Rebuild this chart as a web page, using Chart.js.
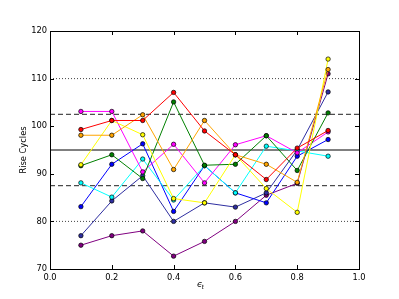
<!DOCTYPE html>
<html>
<head>
<meta charset="utf-8">
<script src="https://cdn.jsdelivr.net/npm/chart.js@4.4.1/dist/chart.umd.min.js"></script>
<style>
  html, body { margin: 0; padding: 0; background: #fff; }
  #wrap { width: 399px; height: 299px; }
</style>
</head>
<body>
<div id="wrap"><canvas id="chart" width="399" height="299"></canvas></div>
<script>
// epsilon_t values on the x axis
const epsT = [0.1, 0.2, 0.3, 0.4, 0.5, 0.6, 0.7, 0.8, 0.9];

// rise cycles, one run per colour
const runRed     = [99.3, 101.2, 101.2, 107.1, 99.0, 94.0, 88.8, 95.4, 99.1];
const runOrange  = [98.1, 98.1, 102.4, 90.9, 101.2, 94.0, 92.0, 88.2, 111.9];
const runYellow  = [91.9, 101.2, 98.2, 84.8, 83.9, 94.0, 86.9, 81.9, 114.1];
const runGreen   = [91.7, 94.0, 89.0, 105.1, 91.8, 92.0, 98.0, 90.7, 102.8];
const runMagenta = [103.1, 103.1, 90.4, 96.2, 88.1, 96.1, 98.0, 94.4, 98.8];
const runCyan    = [88.1, 85.1, 93.1, 84.5, 91.7, 86.0, 95.8, 94.8, 93.7];
const runBlue    = [83.1, 92.0, 96.3, 82.1, 91.7, 86.0, 83.9, 93.7, 97.2];
const runNavy    = [77.0, 84.3, 89.6, 80.0, 83.9, 83.0, 86.0, 95.0, 107.2];
const runPurple  = [75.0, 77.0, 78.0, 72.7, 75.8, 80.0, 85.5, 88.0, 111.0];

// reference levels
const meanLevel = [95];
const dashedLevels = [102.5, 87.5];
const dottedLevels = [110, 80];

const xTicks = [0, 0.2, 0.4, 0.6, 0.8, 1.0];
const yTicks = [70, 80, 90, 100, 110, 120];

const FONT = '"DejaVu Sans", sans-serif';

const toPts = ys => ys.map((v, i) => ({ x: epsT[i], y: v }));

function run(ys, color) {
    return {
        data: toPts(ys),
        borderColor: color,
        borderWidth: 1,
        pointRadius: 2.2,
        pointBackgroundColor: color,
        pointBorderColor: '#000',
        pointBorderWidth: 0.7,
        tension: 0
    };
}

function level(v, dash, color) {
    return {
        data: [{ x: 0, y: v }, { x: 1, y: v }],
        borderColor: color,
        borderWidth: 1,
        borderDash: dash,
        pointRadius: 0,
        tension: 0
    };
}

const datasets = [
    run(runRed, '#ff0000'),
    run(runOrange, '#ffa500'),
    run(runYellow, '#ffff00'),
    run(runGreen, '#008000'),
    run(runMagenta, '#ff00ff'),
    run(runCyan, '#00ffff'),
    run(runBlue, '#0000ff'),
    run(runNavy, '#2e2ea0'),
    run(runPurple, '#800080'),
    ...meanLevel.map(v => level(v, [], '#000')),
    ...dashedLevels.map(v => level(v, [5, 3], '#222')),
    ...dottedLevels.map(v => level(v, [1, 2], '#444'))
];

// box, inward ticks on all sides, and the epsilon_t label
const frame = {
    id: 'frame',
    afterDraw(chart) {
        const { ctx, chartArea: a, scales: { x, y } } = chart;
        ctx.save();
        ctx.strokeStyle = '#000';
        ctx.lineWidth = 1;
        ctx.strokeRect(a.left + 0.5, a.top + 0.5, a.right - a.left, a.bottom - a.top);
        ctx.beginPath();
        xTicks.forEach(v => {
            const px = Math.round(x.getPixelForValue(v)) + 0.5;
            ctx.moveTo(px, a.bottom); ctx.lineTo(px, a.bottom - 4);
            ctx.moveTo(px, a.top); ctx.lineTo(px, a.top + 4);
        });
        yTicks.forEach(v => {
            const py = Math.round(y.getPixelForValue(v)) + 0.5;
            ctx.moveTo(a.left, py); ctx.lineTo(a.left + 4, py);
            ctx.moveTo(a.right, py); ctx.lineTo(a.right - 4, py);
        });
        ctx.stroke();

        ctx.fillStyle = '#000';
        ctx.textBaseline = 'alphabetic';
        ctx.font = 'italic 9px ' + FONT;
        ctx.fillText('ϵ', 197, 287);
        ctx.font = 'italic 6px ' + FONT;
        ctx.fillText('t', 201.5, 289);
        ctx.restore();
    }
};

new Chart(document.getElementById('chart'), {
    type: 'line',
    data: { datasets },
    options: {
        responsive: false,
        animation: false,
        devicePixelRatio: 1,
        layout: { padding: { left: 0, top: 31, right: 40, bottom: 0 } },
        plugins: { legend: { display: false }, tooltip: { enabled: false } },
        scales: {
            x: {
                type: 'linear',
                min: 0, max: 1,
                afterFit: s => { s.height = 30; },
                afterBuildTicks: s => { s.ticks = xTicks.map(v => ({ value: v })); },
                grid: { display: false, drawTicks: false },
                border: { display: false },
                ticks: {
                    padding: 4,
                    color: '#000',
                    font: { family: FONT, size: 8.3 },
                    maxRotation: 0,
                    callback: v => v.toFixed(1)
                }
            },
            y: {
                min: 70, max: 120,
                afterFit: s => { s.width = 50; },
                afterBuildTicks: s => { s.ticks = yTicks.map(v => ({ value: v })); },
                grid: { display: false, drawTicks: false },
                border: { display: false },
                ticks: {
                    padding: 3,
                    color: '#000',
                    font: { family: FONT, size: 8.3 },
                    callback: v => String(v)
                },
                title: {
                    display: true,
                    text: 'Rise Cycles',
                    color: '#000',
                    font: { family: FONT, size: 8.3 },
                    padding: { top: 19, bottom: 0 }
                }
            }
        }
    },
    plugins: [frame]
});
</script>
</body>
</html>
